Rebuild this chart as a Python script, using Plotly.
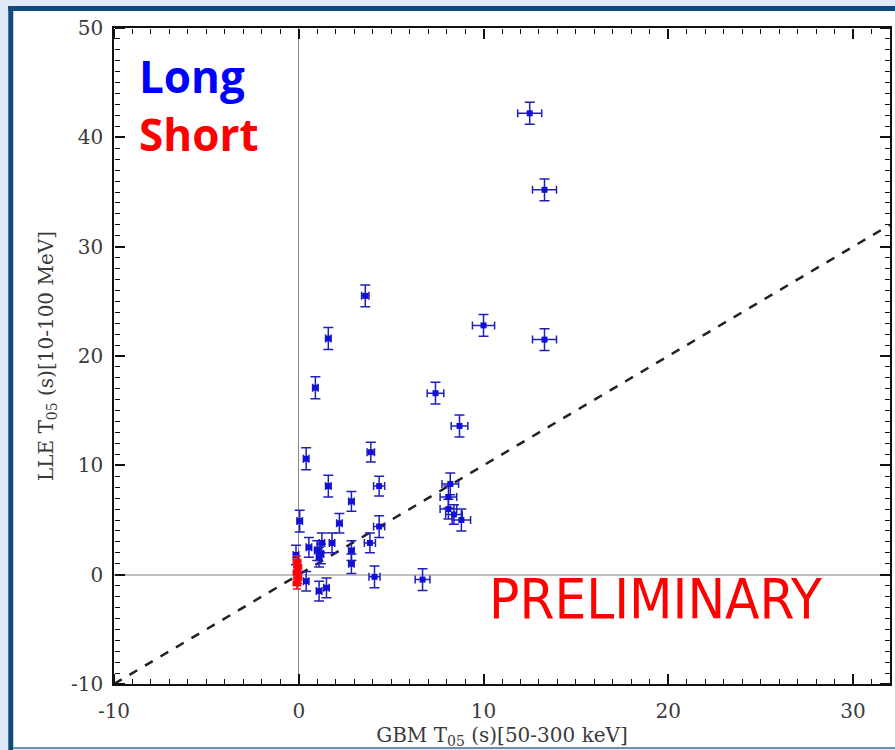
import plotly.graph_objects as go

# ---- data ----
long_x = [12.5, 13.3, 3.6, 10.0, 13.3, 1.6, 0.9, 7.4, 8.7, 3.9, 0.4, 1.6, 4.35,
          8.2, 8.1, 8.1, 8.4, 8.8, 2.85, 2.2, 0.05, 4.35, 3.85, 2.85, 2.85, 4.1,
          6.7, 1.25, 1.8, 0.55, 1.0, 1.1, -0.15, 0.4, 1.1, 1.5, 1.2]
long_y = [42.2, 35.2, 25.5, 22.8, 21.5, 21.6, 17.1, 16.6, 13.6, 11.2, 10.6, 8.1, 8.1,
          8.3, 7.1, 6.0, 5.5, 5.0, 6.7, 4.7, 4.9, 4.4, 2.9, 2.2, 1.0, -0.2,
          -0.45, 2.9, 2.9, 2.5, 2.2, 1.6, 1.8, -0.6, -1.5, -1.2, 1.9]
long_xerr = [0.65, 0.65, 0.2, 0.6, 0.65, 0.15, 0.15, 0.45, 0.45, 0.2, 0.15, 0.15, 0.3,
             0.45, 0.45, 0.45, 0.45, 0.5, 0.15, 0.15, 0.15, 0.3, 0.3, 0.15, 0.15, 0.3,
             0.4, 0.15, 0.15, 0.15, 0.15, 0.15, 0.15, 0.15, 0.15, 0.15, 0.15]
long_yerr = [1.0, 1.0, 1.0, 1.0, 1.0, 1.0, 1.0, 1.0, 1.0, 0.9, 1.0, 1.0, 0.9,
             1.0, 1.0, 0.9, 0.9, 1.0, 0.9, 0.9, 1.0, 1.0, 0.9, 0.9, 0.9, 1.0,
             1.0, 0.9, 0.9, 0.9, 0.9, 0.9, 0.9, 0.9, 0.9, 0.9, 0.9]

short_x = [-0.1, -0.05, -0.1, -0.05, -0.1]
short_y = [1.2, 0.7, 0.2, -0.3, -0.8]
short_xerr = [0.2, 0.2, 0.2, 0.2, 0.2]
short_yerr = [0.5, 0.5, 0.5, 0.5, 0.5]

diag = [-10, 32]
x_range = [-10, 32]
y_range = [-10, 50]
major_step = 10
minor_step = 1
label_alias = {"\u221210": "-10"}

# ---- layout geometry (pixels) ----
W, H = 895, 750
L, R, T, B = 114, 892, 28, 684
pw, ph = R - L, B - T


def px(x):
    return (x - L) / pw


def py(y):
    return (B - y) / ph


fig = go.Figure()

fig.add_trace(go.Scatter(
    x=diag, y=diag, mode="lines",
    line=dict(color="#222222", width=2.5, dash="dash"),
    hoverinfo="skip", showlegend=False))

fig.add_trace(go.Scatter(
    x=long_x, y=long_y, mode="markers", name="Long",
    marker=dict(color="#1010d8", size=6, symbol="square"),
    error_x=dict(type="data", array=long_xerr, color="#2020b8", thickness=1.5, width=4),
    error_y=dict(type="data", array=long_yerr, color="#2020b8", thickness=1.5, width=5),
    showlegend=False))

fig.add_trace(go.Scatter(
    x=short_x, y=short_y, mode="markers", name="Short",
    marker=dict(color="#ff0000", size=6, symbol="square"),
    error_x=dict(type="data", array=short_xerr, color="#ee1020", thickness=1.5, width=3),
    error_y=dict(type="data", array=short_yerr, color="#ee1020", thickness=1.5, width=4),
    showlegend=False))

# invisible carriers so the tick-only overlay axes are drawn
for xa, ya in [("x2", "y"), ("x3", "y"), ("x", "y2"), ("x", "y3")]:
    fig.add_trace(go.Scatter(x=diag, y=diag, xaxis=xa, yaxis=ya, mode="lines",
                             line=dict(width=0, color="rgba(0,0,0,0)"),
                             hoverinfo="skip", showlegend=False))

serif = "DejaVu Serif, Liberation Serif, serif"
tickfont = dict(family=serif, size=20, color="#3a3a3a")

# main axes: labels, frame line, zero lines
fig.update_layout(
    xaxis=dict(
        range=x_range, tickmode="linear", tick0=0, dtick=major_step, labelalias=label_alias,
        ticks="", ticklabelstandoff=8, showline=True, linecolor="#111", linewidth=1.6,
        mirror=True, showgrid=False,
        zeroline=True, zerolinecolor="#8a8a8a", zerolinewidth=1.2, tickfont=tickfont,
        title=dict(text="GBM T<sub>05</sub> (s)[50-300 keV]", standoff=4,
                   font=dict(family=serif, size=20, color="#3a3a3a"))),
    yaxis=dict(
        range=y_range, tickmode="linear", tick0=0, dtick=major_step, labelalias=label_alias,
        ticks="", ticklabelstandoff=5, showline=True, linecolor="#111", linewidth=1.6,
        mirror=True, showgrid=False,
        zeroline=True, zerolinecolor="#c0c0c0", zerolinewidth=2, tickfont=tickfont,
        title=dict(text="LLE T<sub>05</sub> (s)[10-100 MeV]", standoff=12,
                   font=dict(family=serif, size=20, color="#3a3a3a"))),
)

# tick-only overlay axes whose outward ticks point into the plot (inside ticks)
tick_style = dict(
    tickmode="linear", tick0=0, dtick=major_step, ticks="outside", ticklen=10,
    tickwidth=2, tickcolor="#111", showticklabels=False, showline=False,
    showgrid=False, zeroline=False, anchor="free",
    minor=dict(dtick=minor_step, ticks="outside", ticklen=5, tickwidth=1.3,
               tickcolor="#111", showgrid=False))

fig.update_layout(
    xaxis2=dict(overlaying="x", side="top", position=0, range=x_range, **tick_style),
    xaxis3=dict(overlaying="x", side="bottom", position=1, range=x_range, **tick_style),
    yaxis2=dict(overlaying="y", side="right", position=0, range=y_range, **tick_style),
    yaxis3=dict(overlaying="y", side="left", position=1, range=y_range, **tick_style),
)

light = "#dfeaf6"
dark = "#0f4a7c"
shapes = [
    dict(type="rect", xref="paper", yref="paper", x0=px(-5), x1=px(8), y0=py(760), y1=py(-5),
         fillcolor=light, line=dict(width=0)),
    dict(type="rect", xref="paper", yref="paper", x0=px(-5), x1=px(900), y0=py(6), y1=py(-5),
         fillcolor=light, line=dict(width=0)),
    dict(type="rect", xref="paper", yref="paper", x0=px(-5), x1=px(900), y0=py(760), y1=py(749),
         fillcolor=light, line=dict(width=0)),
    dict(type="rect", xref="paper", yref="paper", x0=px(8), x1=px(13), y0=py(760), y1=py(6),
         fillcolor=dark, line=dict(width=0)),
    dict(type="rect", xref="paper", yref="paper", x0=px(8), x1=px(900), y0=py(11), y1=py(6),
         fillcolor=dark, line=dict(width=0)),
    dict(type="rect", xref="paper", yref="paper", x0=px(13), x1=px(900), y0=py(749), y1=py(747),
         fillcolor="#6d8fb0", line=dict(width=0)),
]

annotations = [
    dict(text="<b>Long</b>", xref="paper", yref="paper", x=px(137), y=py(108),
         xanchor="left", yanchor="bottom", showarrow=False,
         font=dict(family="Open Sans, Lato, sans-serif", size=44, color="#0000ff")),
    dict(text="<b>Short</b>", xref="paper", yref="paper", x=px(137), y=py(166),
         xanchor="left", yanchor="bottom", showarrow=False,
         font=dict(family="Open Sans, Lato, sans-serif", size=44, color="#ff0000")),
    dict(text="PRELIMINARY", xref="paper", yref="paper", x=px(657), y=py(598),
         xanchor="center", yanchor="middle", showarrow=False,
         font=dict(family="Liberation Sans Narrow, DejaVu Sans Condensed, sans-serif",
                   size=56, color="#ff0000")),
]

fig.update_layout(
    width=W, height=H,
    margin=dict(l=L, r=W - R, t=T, b=H - B, pad=0),
    paper_bgcolor="white", plot_bgcolor="white",
    shapes=shapes, annotations=annotations, showlegend=False)

fig.write_html("out.html")
